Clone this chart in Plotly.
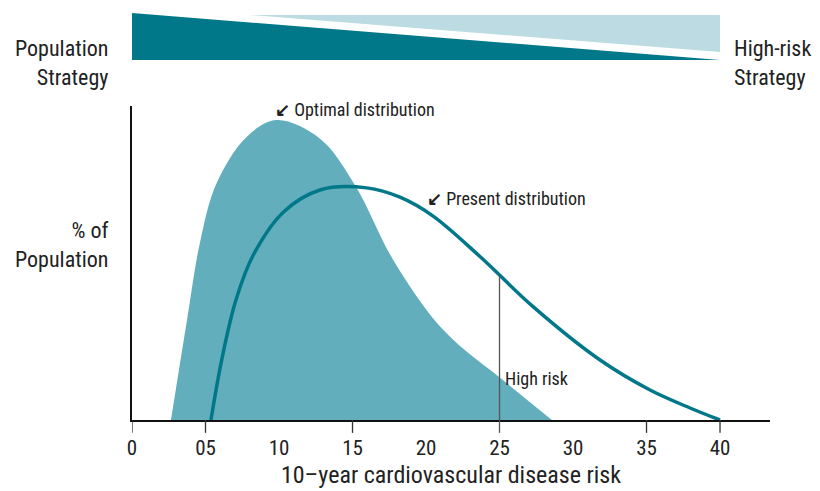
import numpy as np
import plotly.graph_objects as go

# ---- data ----
optimal_x = [2.65, 3.74, 4.63, 5.76, 7.80, 9.84, 12.79, 15.17, 17.78, 21.18, 25.44, 28.57]
optimal_y = [0.0, 3.33, 5.93, 7.9, 9.44, 10.0, 9.38, 7.83, 5.33, 3.0, 1.25, 0.0]

present_x = [5.37, 6.10, 7.07, 8.25, 10.29, 12.79, 15.97, 18.23, 20.48, 23.67, 27.28, 31.84,
             35.24, 37.96, 40.0]
present_y = [0.0, 2.0, 4.0, 5.5, 6.93, 7.67, 7.74, 7.43, 6.80, 5.45, 3.78, 2.0,
             1.0, 0.4, 0.0]

tick_vals = [0, 5, 10, 15, 20, 25, 30, 35, 40]
tick_text = ["0", "05", "10", "15", "20", "25", "30", "35", "40"]
tick_marks = [0, 5, 15, 25, 35, 40]
high_risk = 25

FONT = "Liberation Sans Narrow, Roboto Condensed, Arial Narrow, Liberation Sans, sans-serif"
DARK = "#00788a"
LIGHT = "#bcdbe3"
FILL = "#62aebc"
TXT = "#222222"

X_MAX = 43.4
Y_MAX = 10.47

fig = go.Figure()

fig.add_trace(go.Scatter(
    x=optimal_x, y=optimal_y, mode="lines", line=dict(width=0, shape="spline", smoothing=1.0),
    fill="tozeroy", fillcolor=FILL, hoverinfo="skip"))

fig.add_trace(go.Scatter(
    x=present_x, y=present_y, mode="lines",
    line=dict(color=DARK, width=3.5, shape="spline", smoothing=1.0), hoverinfo="skip"))

# high-risk marker line
hr_y = float(np.interp(high_risk, present_x, present_y))
fig.add_shape(type="line", xref="x", yref="y", x0=high_risk, x1=high_risk, y0=0, y1=hr_y,
              line=dict(color="#555555", width=1.3))

# tick marks below the axis
for v in tick_marks:
    fig.add_shape(type="line", xref="x", yref="paper", x0=v, x1=v, y0=0, y1=-0.041,
                  line=dict(color="#555555" if v == high_risk else "#333333", width=1.3))

# strategy wedges above the chart
px0, px1 = 0 / X_MAX, 40 / X_MAX
light_start = 8.0 / X_MAX
fig.add_shape(type="path", xref="paper", yref="paper",
              path=f"M {px0},1.2962 L {px0},1.1465 L {px1},1.1465 Z",
              fillcolor=DARK, line=dict(width=0))
fig.add_shape(type="path", xref="paper", yref="paper",
              path=f"M {light_start},1.2898 L {px1},1.2898 L {px1},1.1720 Z",
              fillcolor=LIGHT, line=dict(width=0))

ann_font = dict(family=FONT, size=18, color=TXT)
big_font = dict(family=FONT, size=22, color=TXT)
fig.add_annotation(x=-0.0345, y=1.229, xref="paper", yref="paper", text="Population<br>Strategy",
                   showarrow=False, xanchor="right", align="right", font=big_font)
fig.add_annotation(x=0.9404, y=1.229, xref="paper", yref="paper", text="High-risk<br>Strategy",
                   showarrow=False, xanchor="left", align="left", font=big_font)
fig.add_annotation(x=-0.0345, y=0.557, xref="paper", yref="paper", text="% of<br>Population",
                   showarrow=False, xanchor="right", align="right", font=big_font)
fig.add_annotation(x=9.6, y=10.37, xref="x", yref="y", text="<b>↙</b> Optimal distribution",
                   showarrow=False, xanchor="left", font=ann_font)
fig.add_annotation(x=19.9, y=7.4, xref="x", yref="y", text="<b>↙</b> Present distribution",
                   showarrow=False, xanchor="left", font=ann_font)
fig.add_annotation(x=high_risk, y=1.4, xref="x", yref="y", text="High risk",
                   showarrow=False, xanchor="left", xshift=3, font=ann_font)

# the page body has an 8px margin, so the figure is sized/offset to compensate
fig.update_layout(
    width=812, height=483,
    margin=dict(l=124, r=50, t=98, b=71),
    paper_bgcolor="white", plot_bgcolor="white",
    showlegend=False,
    font=dict(family=FONT, color=TXT),
    xaxis=dict(range=[0, X_MAX], showline=True, linecolor="#111111", linewidth=1.5,
               tickvals=tick_vals, ticktext=tick_text, ticks="", showgrid=False, zeroline=False,
               tickfont=dict(family=FONT, size=21, color=TXT), ticklabelstandoff=8,
               automargin=False,
               title=dict(text="10–year cardiovascular disease risk",
                          font=dict(family=FONT, size=24, color=TXT), standoff=7)),
    yaxis=dict(range=[0, Y_MAX], showline=True, linecolor="#111111", linewidth=1.5,
               showticklabels=False, ticks="", showgrid=False, zeroline=False),
)

fig.write_html("out.html")
